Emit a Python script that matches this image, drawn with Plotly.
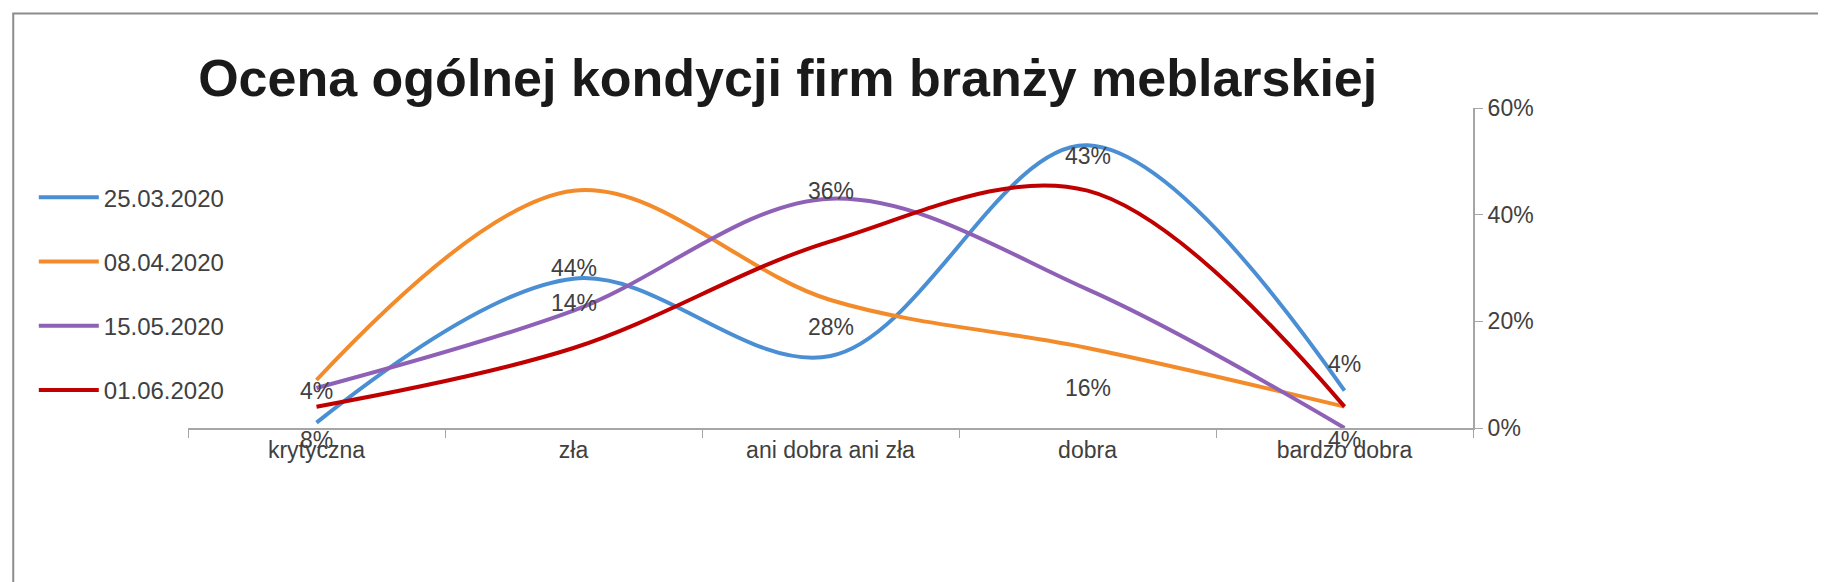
import plotly.graph_objects as go

categories = ['krytyczna', 'zła', 'ani dobra ani zła', 'dobra', 'bardzo dobra']
series_names = ['25.03.2020', '08.04.2020', '15.05.2020', '01.06.2020']
series_values = {
    '25.03.2020': [1, 28, 13.5, 53, 7],
    '08.04.2020': [9, 44.5, 24, 15, 4],
    '15.05.2020': [7.5, 22, 43, 26, 0],
    '01.06.2020': [4, 15, 35, 44.5, 4],
}
colors = ['#4a8fd4', '#f38b2a', '#8e61b7', '#c00000']

# data labels as they appear on the original (offset from their lines)
label_cats = ['krytyczna', 'krytyczna', 'zła', 'zła', 'ani dobra ani zła',
              'ani dobra ani zła', 'dobra', 'dobra', 'bardzo dobra', 'bardzo dobra']
label_y = [0, 7, 30, 23.5, 44.5, 19, 51, 7.5, 12, 0]
label_shift = [-12, 0, 0, 0, 0, 0, 0, 0, 0, -12]
label_text = ['8%', '4%', '44%', '14%', '36%', '28%', '43%', '16%', '4%', '4%']

FONT = 'Liberation Sans'

fig = go.Figure()
for i, name in enumerate(series_names):
    fig.add_trace(go.Scatter(
        x=categories, y=series_values[name], name=name, mode='lines',
        line={'color': colors[i], 'width': 4, 'shape': 'spline', 'smoothing': 1.0},
        legendgroup=name,
    ))

for cat, y, dy, txt in zip(label_cats, label_y, label_shift, label_text):
    fig.add_annotation(x=cat, y=y, yshift=dy, text=txt, showarrow=False,
                       font={'size': 23, 'color': '#404040', 'family': FONT})

fig.update_layout(
    width=1826, height=582,
    paper_bgcolor='white', plot_bgcolor='white',
    margin={'l': 180, 'r': 361, 't': 100, 'b': 162},
    title={'text': '<b>Ocena ogólnej kondycji firm branży meblarskiej</b>',
           'x': 0.427, 'xanchor': 'center', 'y': 0.88, 'yanchor': 'middle',
           'font': {'size': 52, 'color': '#1a1a1a', 'family': FONT}},
    font={'family': FONT, 'size': 23, 'color': '#404040'},
    legend={'x': -0.12, 'xanchor': 'left', 'y': 0.79, 'yanchor': 'top',
            'tracegroupgap': 30, 'font': {'size': 24, 'color': '#404040'},
            'itemwidth': 60},
    xaxis={'range': [-0.5, 4.5], 'showgrid': False, 'showline': True,
           'linecolor': '#a6a6a6', 'linewidth': 2, 'ticks': 'outside',
           'tickson': 'boundaries', 'ticklen': 8, 'tickcolor': '#a6a6a6',
           'tickfont': {'size': 23}},
    yaxis={'range': [0, 60], 'side': 'right', 'showgrid': False,
           'showline': True, 'linecolor': '#a6a6a6', 'linewidth': 2,
           'ticks': 'outside', 'ticklen': 8, 'tickcolor': '#a6a6a6',
           'tickvals': [0, 20, 40, 60], 'ticktext': ['0%', '20%', '40%', '60%'],
           'tickfont': {'size': 23}, 'zeroline': False},
    shapes=[{'type': 'rect', 'xref': 'paper', 'yref': 'paper',
             'x0': -0.136, 'x1': 1.277, 'y0': -0.49, 'y1': 1.295,
             'line': {'color': '#8c8c8c', 'width': 2}}],
)

fig.write_html('out.html')
